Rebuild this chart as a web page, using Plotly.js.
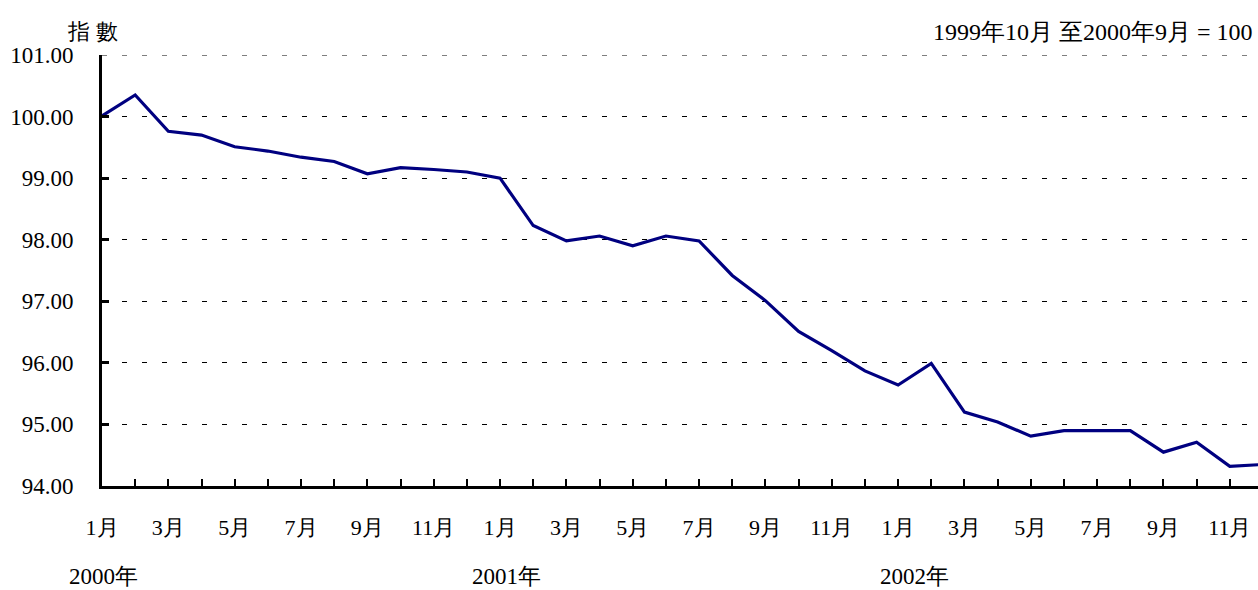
<!DOCTYPE html>
<html>
<head>
<meta charset="utf-8">
<script src="https://cdn.plot.ly/plotly-3.0.1.min.js"></script>
<style>
html,body{margin:0;padding:0;overflow:hidden;background:#fff;}
#chart{width:1258px;height:590px;}
</style>
</head>
<body>
<div id="chart"></div>
<script>
// Monthly index values, Jan 2000 - Dec 2002
const monthLabels = ["1月","2月","3月","4月","5月","6月","7月","8月","9月","10月","11月","12月",
                     "1月","2月","3月","4月","5月","6月","7月","8月","9月","10月","11月","12月",
                     "1月","2月","3月","4月","5月","6月","7月","8月","9月","10月","11月","12月"];
const indexValues = [100.01, 100.35, 99.76, 99.70, 99.51, 99.44, 99.34, 99.27, 99.07, 99.17, 99.14, 99.10,
                     99.00, 98.23, 97.98, 98.06, 97.90, 98.06, 97.98, 97.42, 97.01, 96.51, 96.20, 95.87,
                     95.64, 95.99, 95.20, 95.04, 94.81, 94.90, 94.90, 94.90, 94.55, 94.71, 94.32, 94.35];
const yearLabels = ["2000年", "2001年", "2002年"];
const yTicks = [94, 95, 96, 97, 98, 99, 100, 101];
const yAxisTitle = "指 數";
const baseNote = "1999年10月 至2000年9月 = 100";

const xIdx = indexValues.map((_, i) => i);
const tickText = monthLabels.map((m, i) => (i % 2 === 0 ? m : ""));
const FONT = "Liberation Serif";

const yearAnn = yearLabels.map((t, k) => ({
  text: t, xref: "x", yref: "paper",
  x: [0.05, 12.2, 24.5][k], y: -0.211,
  showarrow: false, xanchor: "center", yanchor: "middle",
  font: {family: FONT, size: 23, color: "#000"}
}));

const trace = {
  x: xIdx, y: indexValues, type: "scatter", mode: "lines",
  line: {color: "#000080", width: 3.2},
  hoverinfo: "skip"
};

const layout = {
  width: 1258, height: 590,
  margin: {l: 102, r: 0, t: 55, b: 104, pad: 0},
  paper_bgcolor: "#fff", plot_bgcolor: "#fff",
  showlegend: false,
  font: {family: FONT, size: 22, color: "#000"},
  xaxis: {
    range: [0, 34.85],
    tickmode: "array", tickvals: xIdx, ticktext: tickText,
    ticks: "inside", ticklen: 7, tickwidth: 2, tickcolor: "#000",
    showline: true, linecolor: "#000", linewidth: 3,
    showgrid: false, zeroline: false,
    ticklabelstandoff: 20,
    tickfont: {family: FONT, size: 22, color: "#000"},
    fixedrange: true
  },
  yaxis: {
    range: [94, 101],
    tickmode: "array", tickvals: yTicks,
    tickformat: ".2f",
    ticks: "inside", ticklen: 7, tickwidth: 3, tickcolor: "#000",
    showline: true, linecolor: "#000", linewidth: 3,
    showgrid: true, gridcolor: "#000", gridwidth: 1, griddash: "5px,15px",
    zeroline: false,
    ticklabelstandoff: 21,
    tickfont: {family: FONT, size: 23, color: "#000"},
    fixedrange: true
  },
  shapes: [
    {type: "line", xref: "paper", yref: "y", x0: 0, x1: 1, y0: yTicks[yTicks.length - 1], y1: yTicks[yTicks.length - 1],
     line: {color: "#000", width: 1, dash: "5px,15px"}, layer: "below"}
  ],
  annotations: [
    {text: yAxisTitle, xref: "paper", yref: "paper", x: -0.008, y: 1.0, yshift: 24,
     showarrow: false, xanchor: "center", yanchor: "middle",
     font: {family: FONT, size: 22, color: "#000"}},
    {text: baseNote, xref: "paper", yref: "paper", x: 0.9975, y: 1.0, yshift: 23,
     showarrow: false, xanchor: "right", yanchor: "middle",
     font: {family: FONT, size: 24, color: "#000"}}
  ].concat(yearAnn)
};

Plotly.newPlot("chart", [trace], layout, {displayModeBar: false, staticPlot: true});
</script>
</body>
</html>
